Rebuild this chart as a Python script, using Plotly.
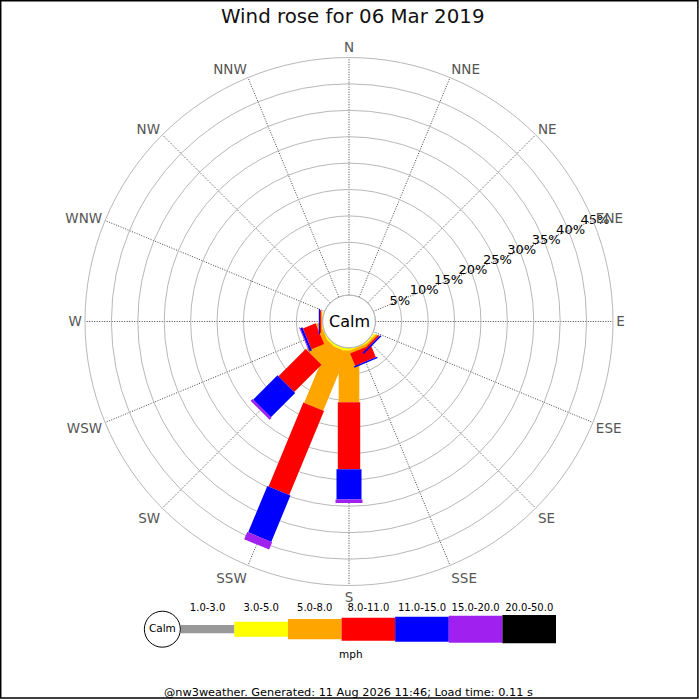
import math
import plotly.graph_objects as go

# ---- data (percent of time, direction order N..NNW) ----
directions = ["N", "NNE", "NE", "ENE", "E", "ESE", "SE", "SSE",
              "S", "SSW", "SW", "WSW", "W", "WNW", "NW", "NNW"]
dir_angles = [0, 22.5, 45, 67.5, 90, 112.5, 135, 157.5,
              180, 202.5, 225, 247.5, 270, 292.5, 315, 337.5]
speed_bins = ["1.0-3.0", "3.0-5.0", "5.0-8.0", "8.0-11.0",
              "11.0-15.0", "15.0-20.0", "20.0-50.0"]
bin_colors = ["#999999", "#ffff00", "#ffa500", "#ff0000",
              "#0000ff", "#a020f0", "#000000"]

freq_1_3 = [0, 0, 0, 0, 0, 0, 0, 0, 0, 0, 0, 0, 0, 0, 0, 0]
freq_3_5 = [0, 0, 0, 0, 0, 0, 0.35, 0.2, 0.5, 0.5, 0.4, 0.2, 0.1, 0, 0, 0]
freq_5_8 = [0, 0, 0, 0, 0, 0, 0.35, 0.5, 9.8, 12.0, 4.1, 0.8, 0.2, 0, 0, 0]
freq_8_11 = [0, 0, 0, 0, 0, 0, 0.35, 2.5, 12.7, 17.2, 7.3, 2.6, 0.2, 0, 0, 0]
freq_11_15 = [0, 0, 0, 0, 0, 0, 0.3, 0.3, 5.7, 9.5, 6.5, 0.45, 0.2, 0, 0, 0]
freq_15_20 = [0, 0, 0, 0, 0, 0, 0, 0, 0.7, 1.5, 0.5, 0.15, 0.05, 0, 0, 0]
freq_20_50 = [0, 0, 0, 0, 0, 0, 0, 0, 0, 0, 0, 0, 0, 0, 0, 0]
freqs = [freq_1_3, freq_3_5, freq_5_8, freq_8_11, freq_11_15, freq_15_20, freq_20_50]

radial_ticks = [5, 10, 15, 20, 25, 30, 35, 40, 45]
radial_label_dir = 67.5   # labels run along ENE
title = "Wind rose for 06 Mar 2019"
footer = "@nw3weather. Generated: 11 Aug 2026 11:46; Load time: 0.11 s"

# ---- geometry of the rose ----
FONT = "DejaVu Sans"
R_PX = 264.0            # outer radius in px
CALM_PX = 26.3          # calm circle radius in px
HOLE = CALM_PX / R_PX
R_MAX = 45
PX_PER = (R_PX - CALM_PX) / R_MAX
C = CALM_PX / PX_PER    # calm radius in % units
HALF_W = [8, 9.5, 10.3, 11.2, 12.5, 13.5, 14.2]   # bar half width per bin, px
CX, CY = 349.0, 321.5


def rect(theta, a, b, hw):
    # straight-sided bar segment from a to b (% units) along direction theta
    h = hw / PX_PER
    pts = [(C + a, -h), (C + b, -h), (C + b, h), (C + a, h), (C + a, -h)]
    r = [math.hypot(d, s) - C for d, s in pts]
    t = [theta + math.degrees(math.atan2(s, d)) for d, s in pts]
    return r, t


fig = go.Figure()
cum = [0.0] * len(directions)
for k, vals in enumerate(freqs):
    rr, tt = [], []
    for i, v in enumerate(vals):
        if v > 0:
            r, t = rect(dir_angles[i], cum[i], cum[i] + v, HALF_W[k])
            rr += r + [None]
            tt += t + [None]
        cum[i] += v
    if rr:
        fig.add_trace(go.Scatterpolar(r=rr, theta=tt, mode="lines", fill="toself",
                                      fillcolor=bin_colors[k], line=dict(width=0, color=bin_colors[k]),
                                      hoverinfo="skip", showlegend=False))

# calm circle outline
fig.add_trace(go.Scatterpolar(r=[0] * 73, theta=[i * 5 for i in range(73)], mode="lines",
                              line=dict(color="#999999", width=1), hoverinfo="skip", showlegend=False))

# radial labels centred on the rings
fig.add_trace(go.Scatterpolar(r=radial_ticks, theta=[radial_label_dir] * len(radial_ticks),
                              mode="text", text=[f" {v}%" for v in radial_ticks],
                              textposition="middle center", cliponaxis=False,
                              textfont=dict(size=13, color="black", family=FONT),
                              hoverinfo="skip", showlegend=False))

# ---- legend bar ----
leg_h = [8.3, 15, 20.3, 23, 25, 27, 28.3]
leg_x = list(range(1, len(speed_bins) + 1))
fig.add_trace(go.Bar(x=leg_x, y=leg_h, base=[-h / 2 for h in leg_h], width=1,
                     marker=dict(color=bin_colors, line=dict(width=0)),
                     xaxis="x", yaxis="y", showlegend=False, hoverinfo="skip"))
fig.add_trace(go.Scatter(x=[0.157], y=[0], mode="markers+text", text=["Calm"],
                         textposition="middle center", textfont=dict(size=10.5, color="black", family=FONT),
                         marker=dict(size=36, color="white", line=dict(color="black", width=1)),
                         cliponaxis=False, showlegend=False, hoverinfo="skip"))


def note(text, x, y, size, color="black"):
    return dict(text=text, x=x / 700, y=1 - y / 700, xref="paper", yref="paper",
                xanchor="center", yanchor="middle", showarrow=False,
                font=dict(size=size, color=color, family=FONT))


unit = 53.57
fig.update_layout(
    width=700, height=700, margin=dict(l=0, r=0, t=0, b=0),
    paper_bgcolor="white", plot_bgcolor="white",
    font=dict(family=FONT, color="black"),
    polar=dict(
        domain=dict(x=[(CX - R_PX) / 700, (CX + R_PX) / 700],
                    y=[1 - (CY + R_PX) / 700, 1 - (CY - R_PX) / 700]),
        hole=HOLE, bgcolor="white",
        radialaxis=dict(range=[0, R_MAX], tickvals=radial_ticks, showticklabels=False,
                        angle=22.5, showline=False, ticks="", gridcolor="#b8b8b8", gridwidth=1),
        angularaxis=dict(rotation=90, direction="clockwise", tickmode="array",
                         tickvals=dir_angles, ticktext=directions, ticks="",
                         gridcolor="#444444", griddash="1px,1.5px", gridwidth=1,
                         linecolor="#b8b8b8", linewidth=1,
                         tickfont=dict(size=13.5, color="#555555", family=FONT)),
    ),
    xaxis=dict(domain=[(180.7 - unit) / 700, 556 / 700], range=[-0.5, 7.5],
               side="top", tickvals=leg_x, ticktext=speed_bins, ticks="",
               showgrid=False, zeroline=False, showline=False, fixedrange=True,
               tickfont=dict(size=10, color="black", family=FONT)),
    yaxis=dict(domain=[1 - 644.2 / 700, 1 - 614.2 / 700], range=[-15, 15],
               visible=False, fixedrange=True),
    showlegend=False,
    annotations=[
        note(title, 352, 17, 19.8, "#111111"),
        note("Calm", CX, CY, 16),
        note("mph", 350.7, 654, 10.5),
        note(footer, 348, 692, 11.3),
    ],
    shapes=[dict(type="rect", xref="paper", yref="paper", x0=0.001, y0=0.003,
                 x1=0.997, y1=0.999, line=dict(color="black", width=1.5))],
)

fig.write_html("out.html", config={"displayModeBar": False},
               post_script="document.body.style.margin='0';")
